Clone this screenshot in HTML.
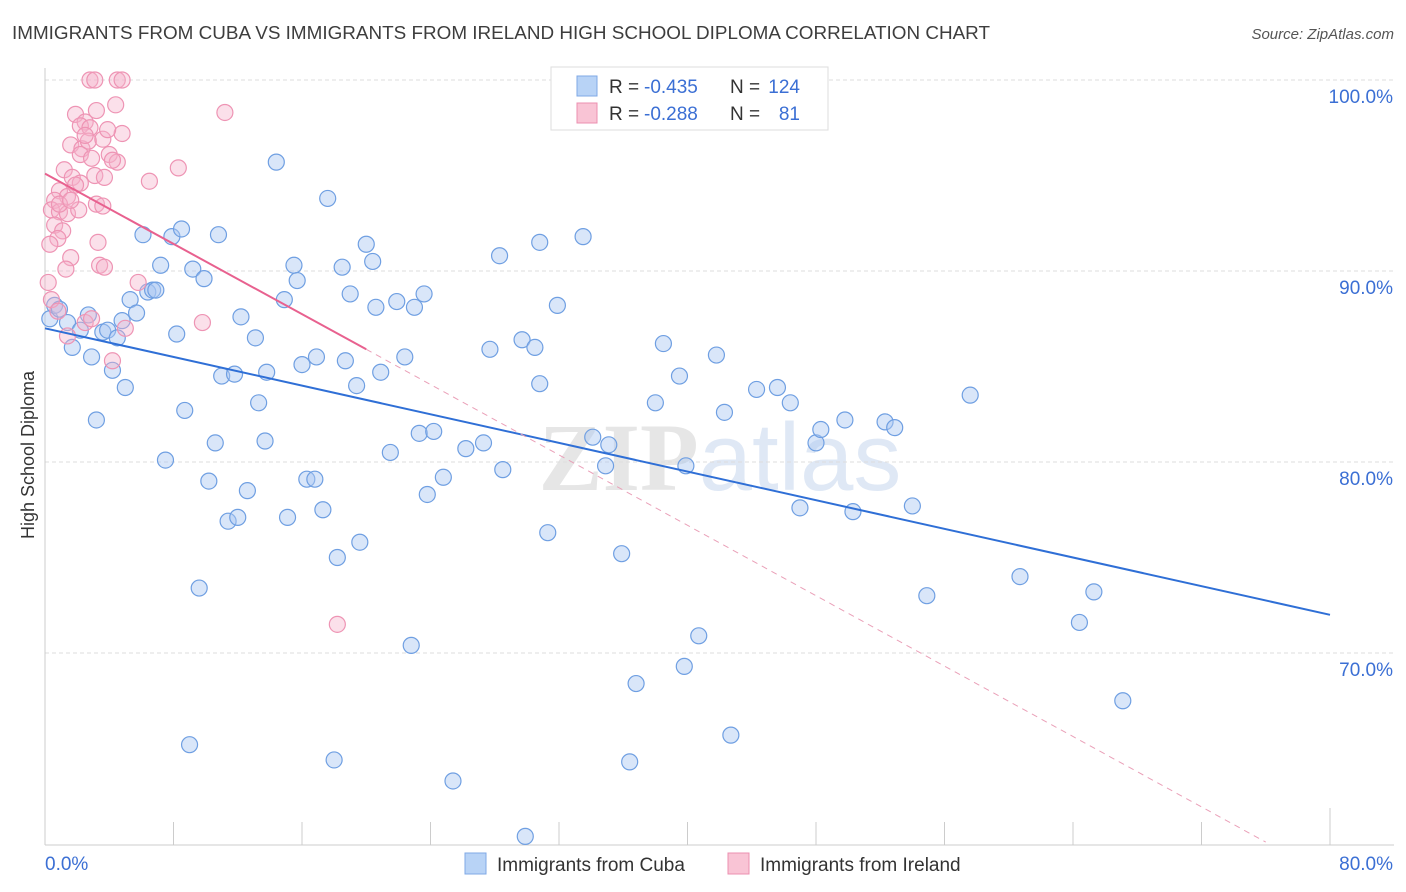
<!DOCTYPE html>
<html><head><meta charset="utf-8"><style>
body{margin:0;background:#fff;font-family:"Liberation Sans",sans-serif}
svg{display:block}
</style></head><body>
<svg id="chart" width="1406" height="892">
<text x="12" y="39" font-size="18" fill="#3d3d3d" textLength="978" lengthAdjust="spacingAndGlyphs">IMMIGRANTS FROM CUBA VS IMMIGRANTS FROM IRELAND HIGH SCHOOL DIPLOMA CORRELATION CHART</text>
<text x="1394" y="39" font-size="15" fill="#555" font-style="italic" text-anchor="end">Source: ZipAtlas.com</text>
<text x="720" y="490" font-size="96" fill="#e6e6e6" text-anchor="middle" font-family="Liberation Serif" font-weight="bold">ZIP<tspan font-family="Liberation Sans" font-weight="normal" fill="#dfe8f5">atlas</tspan></text>
<text transform="translate(34,455) rotate(-90)" font-size="18" fill="#333" text-anchor="middle">High School Diploma</text>
<g id="grid"></g><g id="axes"></g><g id="marks"></g><g id="trends"></g>
<g>
<rect x="551" y="67" width="277" height="63" fill="#fff" stroke="#ddd"/>
<rect x="577" y="76" width="20" height="20" fill="#b8d3f6" stroke="#7fa8e6"/>
<text x="609" y="93" font-size="19" fill="#333">R = </text>
<text x="644" y="93" font-size="19" fill="#3b6fd4">-0.435</text>
<text x="730" y="93" font-size="19" fill="#333">N =</text>
<text x="800" y="93" font-size="19" fill="#3b6fd4" text-anchor="end">124</text>
<rect x="577" y="103" width="20" height="20" fill="#f9c4d5" stroke="#ec8fb0"/>
<text x="609" y="120" font-size="19" fill="#333">R = </text>
<text x="644" y="120" font-size="19" fill="#3b6fd4">-0.288</text>
<text x="730" y="120" font-size="19" fill="#333">N =</text>
<text x="800" y="120" font-size="19" fill="#3b6fd4" text-anchor="end">81</text>
</g>
<g>
<rect x="465" y="853" width="21" height="21" fill="#b8d3f6" stroke="#7fa8e6"/>
<text x="497" y="871" font-size="19" fill="#333">Immigrants from Cuba</text>
<rect x="728" y="853" width="21" height="21" fill="#f9c4d5" stroke="#ec8fb0"/>
<text x="760" y="871" font-size="19" fill="#333">Immigrants from Ireland</text>
</g>
</svg>
<script>
const yTicks=[100,90,80,70];
const xTickLabels=["0.0%","80.0%"];
const cubaX=[0.3,0.6,0.9,1.4,1.7,2.7,2.2,2.9,3.2,3.6,3.9,4.2,4.5,5.0,4.8,5.3,5.7,6.1,6.4,6.7,6.9,7.2,7.5,7.9,8.2,8.5,8.7,9.0,9.2,9.6,9.9,10.2,10.6,10.8,11.0,11.4,11.8,12.0,12.2,12.6,13.1,13.3,13.7,13.8,14.4,14.9,15.1,15.5,15.7,16.0,16.3,16.8,16.9,17.3,17.6,18.0,18.2,18.5,18.7,19.0,19.4,19.6,20.0,20.4,20.6,20.9,21.5,21.9,22.4,22.8,23.0,23.3,23.6,23.8,24.2,24.8,25.4,26.2,27.3,27.7,28.3,28.5,29.7,29.9,30.5,30.8,30.8,31.3,31.9,33.5,34.1,34.9,35.1,35.9,36.4,36.8,38.0,38.5,39.5,39.8,39.9,40.7,41.8,42.3,42.7,44.3,45.6,46.4,47.0,48.0,48.3,49.8,50.3,52.3,52.9,54.0,54.9,57.6,60.7,64.4,65.3,67.1];
const cubaY=[87.5,88.2,88.0,87.3,86.0,87.7,86.9,85.5,82.2,86.8,86.9,84.8,86.5,83.9,87.4,88.5,87.8,91.9,88.9,89.0,89.0,90.3,80.1,91.8,86.7,92.2,82.7,65.2,90.1,73.4,89.6,79.0,81.0,91.9,84.5,76.9,84.6,77.1,87.6,78.5,86.5,83.1,81.1,84.7,95.7,88.5,77.1,90.3,89.5,85.1,79.1,79.1,85.5,77.5,93.8,64.4,75.0,90.2,85.3,88.8,84.0,75.8,91.4,90.5,88.1,84.7,80.5,88.4,85.5,70.4,88.1,81.5,88.8,78.3,81.6,79.2,63.3,80.7,81.0,85.9,90.8,79.6,86.4,60.4,86.0,84.1,91.5,76.3,88.2,91.8,81.3,79.8,80.9,75.2,64.3,68.4,83.1,86.2,84.5,69.3,79.8,70.9,85.6,82.6,65.7,83.8,83.9,83.1,77.6,81.0,81.7,82.2,77.4,82.1,81.8,77.7,73.0,83.5,74.0,71.6,73.2,67.5];
const irelandX=[2.8,3.1,4.5,4.8,11.2,3.2,4.4,1.9,2.5,2.2,2.8,4.8,1.6,2.3,2.7,3.6,2.2,2.9,4.0,4.5,1.2,1.7,2.2,3.1,3.7,6.5,8.3,0.9,1.4,1.9,0.6,0.4,0.9,1.4,3.2,3.6,0.6,1.1,0.8,0.3,3.3,1.6,1.3,3.4,3.7,0.2,5.8,0.4,0.8,2.5,2.9,9.8,5.0,1.4,4.2,18.2,0.9,2.1,2.5,3.9,4.2,1.6];
const irelandY=[100,100,100,100,98.3,98.4,98.7,98.2,97.8,97.6,97.5,97.2,96.6,96.4,96.8,96.9,96.1,95.9,96.1,95.7,95.3,94.9,94.6,95.0,94.9,94.7,95.4,94.2,93.9,94.5,93.7,93.2,93.1,93.0,93.5,93.4,92.4,92.1,91.7,91.4,91.5,90.7,90.1,90.3,90.2,89.4,89.4,88.5,87.9,87.3,87.5,87.3,87.0,86.6,85.3,71.5,93.5,93.2,97.1,97.4,95.8,93.7];
const cubaTrend=[0,87.0,80,72.0];
const irelandTrend=[0,95.1,20,85.9,76,60.1];
const NS='http://www.w3.org/2000/svg';
const sx=v=>45+v*1285/80;
const sy=v=>80+(100-v)*19.1;
function mk(tag,parent,attrs){const e=document.createElementNS(NS,tag);for(const k in attrs)e.setAttribute(k,attrs[k]);document.getElementById(parent).appendChild(e);return e;}
yTicks.forEach(t=>{
  const l=mk('line','grid',{x1:45,x2:1394,y1:sy(t),y2:sy(t),stroke:'#ddd','stroke-dasharray':'4,3'});
  
  
  const tx=mk('text','grid',{x:1393,y:sy(t)+23,'font-size':19,fill:'#3b6fd4','text-anchor':'end'});
  tx.textContent=t.toFixed(1)+'%';
  
  
});
let a=mk('line','axes',{x1:45,x2:45,y1:68,y2:845,stroke:'#ccc'});


a=mk('line','axes',{x1:45,x2:1394,y1:845,y2:845,stroke:'#ccc'});


for(let i=1;i<=10;i++){
  const t=mk('line','axes',{x1:sx(i*8),x2:sx(i*8),y1:i==10?808:822,y2:845,stroke:'#ccc'});
  
  
}
[[0,'start'],[80,'end']].forEach((p,i)=>{
  const tx=mk('text','axes',{x:p[0]==0?45:1393,y:870,'font-size':19,fill:'#3b6fd4','text-anchor':p[1]});
  tx.textContent=xTickLabels[i];
  
  
});
cubaX.forEach((x,i)=>{
  const c=mk('circle','marks',{cx:sx(x),cy:sy(cubaY[i]),r:8,fill:'rgba(170,200,242,0.45)',stroke:'#6f9fe2','stroke-width':1.2});
  
  
});
irelandX.forEach((x,i)=>{
  const c=mk('circle','marks',{cx:sx(x),cy:sy(irelandY[i]),r:8,fill:'rgba(246,178,202,0.4)',stroke:'#ee94b4','stroke-width':1.2});
  
  
});
let t=mk('line','trends',{x1:sx(cubaTrend[0]),y1:sy(cubaTrend[1]),x2:sx(cubaTrend[2]),y2:sy(cubaTrend[3]),stroke:'#2f6fd6','stroke-width':2});


t=mk('line','trends',{x1:sx(irelandTrend[0]),y1:sy(irelandTrend[1]),x2:sx(irelandTrend[2]),y2:sy(irelandTrend[3]),stroke:'#e8618f','stroke-width':2});


t=mk('line','trends',{x1:sx(irelandTrend[2]),y1:sy(irelandTrend[3]),x2:sx(irelandTrend[4]),y2:sy(irelandTrend[5]),stroke:'#eaa0b8','stroke-width':1,'stroke-dasharray':'6,5'});


</script>
</body></html>
